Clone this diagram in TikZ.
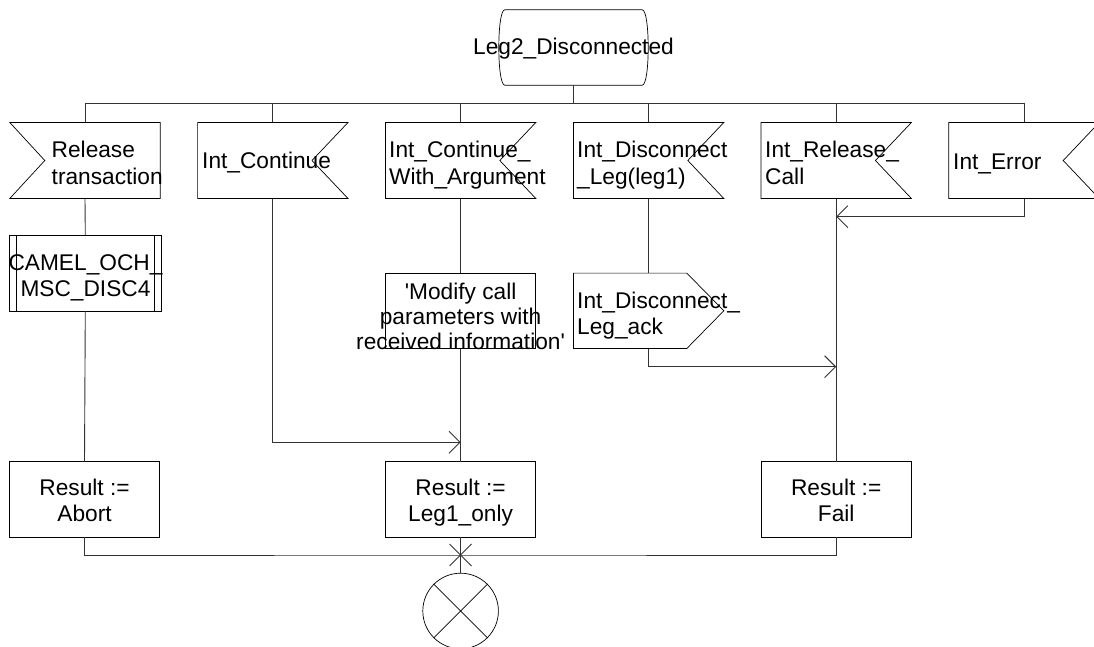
\documentclass[tikz,border=0pt]{standalone}
\usepackage{fontspec}
\setmainfont{Liberation Sans}
\usetikzlibrary{arrows.meta}
\newcommand\dsz{\fontsize{22.7pt}{26.7pt}\selectfont}
\newcommand\tl[1]{\begin{tabular}[t]{@{}l@{}}#1\end{tabular}}
\newcommand\tc[1]{\begin{tabular}[t]{@{}c@{}}#1\end{tabular}}
\begin{document}
\begin{tikzpicture}[x=1pt,y=-1pt,
  flow/.style={draw=black!80, line width=0.9pt},
  shp/.style={draw=black, line width=0.7pt},
  box/.style={rectangle, inner sep=0pt, minimum width=150pt, minimum height=75.6pt},
  lbl/.style={inner sep=0pt, font=\dsz},
  arr/.style={-{Straight Barb[length=11pt,width=22pt]}}]
\useasboundingbox (0,0) rectangle (1094,647);
% state
\node[rectangle, inner sep=0pt, minimum width=137pt, minimum height=75pt] (st) at (573.5,47.5) {};
\draw[shp] (st.north west) -- (st.north east) .. controls +(8,0) and +(8,0) .. (st.south east)
  -- (st.south west) .. controls +(-8,0) and +(-8,0) .. (st.north west);
\node[lbl, anchor=base] (stt) at (573.5,55) {Leg2\_Disconnected};
% inputs
\node[box] (in1) at (85,160.5) {};
\node[box] (in2) at (272.8,160.5) {};
\node[box] (in3) at (460.6,160.5) {};
\node[box] (in4) at (648.6,160.5) {};
\node[box] (in5) at (836.2,160.5) {};
\node[box] (in6) at (1024,160.5) {};
\draw[shp] (in1.north west) -- (in1.north east) -- (in1.south east) -- (in1.south west) -- ([xshift=35pt]in1.west) -- cycle;
\foreach \n in {in2,in3,in4,in5,in6}
  \draw[shp] (\n.north west) -- (\n.north east) -- ([xshift=-36pt]\n.east) -- (\n.south east) -- (\n.south west) -- cycle;
\node[lbl, anchor=base west] (t1) at (51.5,157.5) {\tl{Release\\transaction}};
\node[lbl, anchor=base west] (t2) at (202,169) {Int\_Continue};
\node[lbl, anchor=base west] (t3) at (389,157.5) {\tl{Int\_Continue\_\\With\_Argument}};
\node[lbl, anchor=base west] (t4) at (577,157.5) {\tl{Int\_Disconnect\\\_Leg(leg1)}};
\node[lbl, anchor=base west] (t5) at (765,157.5) {\tl{Int\_Release\_\\Call}};
\node[lbl, anchor=base west] (t6) at (953,170) {Int\_Error};
% bus
\coordinate (bus) at (573.5,103.3);
\draw[flow] (st.south) -- (bus);
\draw[flow] (in1.north) |- (bus) -| (in6.north);
\foreach \n in {in2,in3,in4,in5}
  \draw[flow] (\n.north) -- (\n.north |- bus);
% procedure call
\node[box, minimum width=150.7pt] (cam) at (85.3,273) {};
\draw[shp] (cam.north west) rectangle (cam.south east);
\draw[shp] ([xshift=7pt]cam.north west) -- ([xshift=7pt]cam.south west)
           ([xshift=-7pt]cam.north east) -- ([xshift=-7pt]cam.south east);
\node[lbl, anchor=base] (tcam) at (85.5,270) {\tc{CAMEL\_OCH\_\\MSC\_DISC4}};
% task modify
\node[box, minimum height=75pt] (mod) at (460.6,310.8) {};
\draw[shp] (mod.north west) rectangle (mod.south east);
\node[lbl, anchor=base] (tmod) at (460.6,299) {\renewcommand\arraystretch{0.94}\tc{\textquotesingle Modify call\\parameters with\\received information\textquotesingle}};
% output
\node[box, minimum height=75pt] (ack) at (648.6,310.8) {};
\draw[shp] (ack.north west) -- ([xshift=-37pt]ack.north east) -- (ack.east) -- ([xshift=-37pt]ack.south east) -- (ack.south west) -- cycle;
\node[lbl, anchor=base west] (tack) at (577,308) {\tl{Int\_Disconnect\_\\Leg\_ack}};
% results
\node[box, minimum height=75pt] (ab) at (84.5,499.2) {};
\node[box, minimum height=75pt] (l1) at (460.6,499.2) {};
\node[box, minimum height=75pt] (fl) at (836.2,499.2) {};
\foreach \n in {ab,l1,fl}
  \draw[shp] (\n.north west) rectangle (\n.south east);
\node[lbl, anchor=base] (tab) at (84.5,495) {\tc{Result :=\\Abort}};
\node[lbl, anchor=base] (tl1) at (460.6,495) {\tc{Result :=\\Leg1\_only}};
\node[lbl, anchor=base] (tfl) at (836.2,495) {\tc{Result :=\\Fail}};
% stop
\node[circle, shp, minimum size=75.6pt, inner sep=0pt] (stop) at (460.6,611) {};
\draw[shp] (stop.north west) -- (stop.south east) (stop.north east) -- (stop.south west);
% flow lines
\coordinate (j2) at (460.6,442.3);
\coordinate (j4) at (836.2,366.7);
\coordinate (j6) at (836.2,216.7);
\coordinate (mrg) at (460.6,555);
\draw[flow] (in1.south) -- (cam.north);
\draw[flow] (cam.south) -- (ab.north);
\draw[flow,arr] (in2.south) |- (j2);
\draw[flow] (in3.south) -- (mod.north);
\draw[flow] (mod.south) -- (l1.north);
\draw[flow] (in4.south) -- (ack.north);
\draw[flow,arr] (ack.south) |- (j4);
\draw[flow] (in5.south) -- (fl.north);
\draw[flow,arr] (in6.south) |- (j6);
\draw[flow] (ab.south) |- (mrg) -| (fl.south);
\draw[flow] (l1.south) -- (mrg) -- (stop.north);
\draw[flow] ([shift={(-11pt,11pt)}]mrg) -- ([shift={(11pt,-11pt)}]mrg)
            ([shift={(11pt,11pt)}]mrg) -- ([shift={(-11pt,-11pt)}]mrg);
\end{tikzpicture}
\end{document}
